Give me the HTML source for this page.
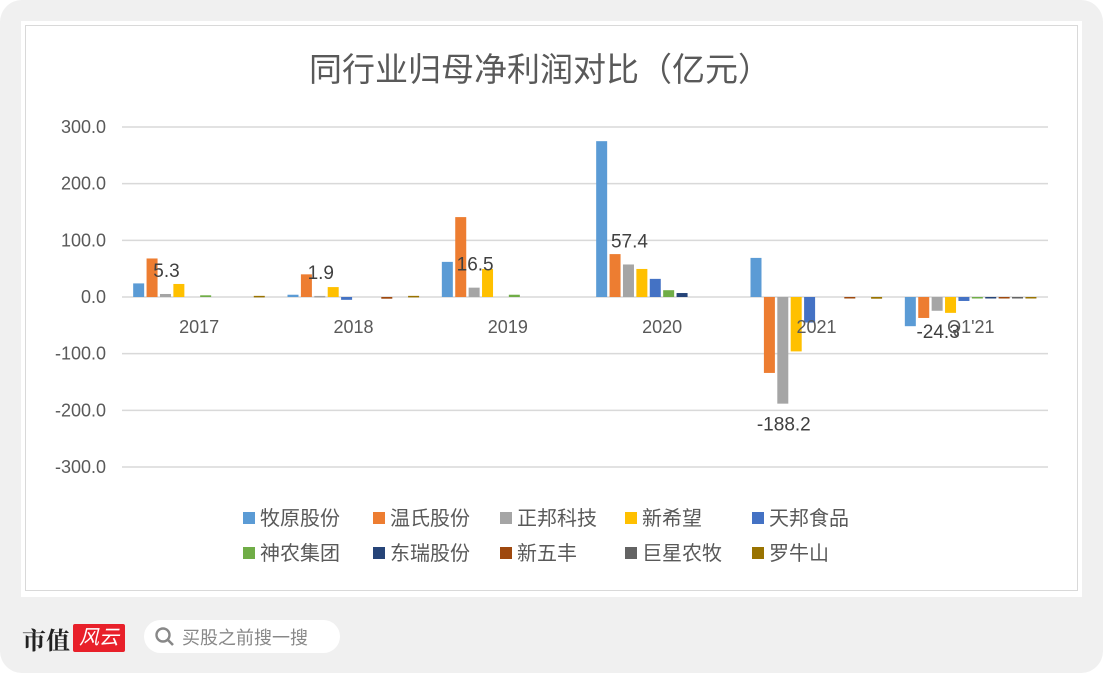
<!DOCTYPE html>
<html><head><meta charset="utf-8"><style>
body{margin:0;width:1103px;height:673px;background:#fff;font-family:"Liberation Sans","Noto Sans CJK SC",sans-serif;overflow:hidden}
#bg{position:absolute;left:0;top:0;width:1103px;height:673px;background:#f0f0f0;border-radius:22px}
#card{position:absolute;left:21px;top:21px;width:1061px;height:576px;background:#fff}
#frame{position:absolute;left:25px;top:25px;width:1053px;height:566px;border:1px solid #d9d9d9;box-sizing:border-box}
svg{position:absolute;left:0;top:0}
</style></head><body>
<div id="bg"></div>
<div id="card"></div>
<div id="frame"></div>
<svg id="chart" width="1103" height="673"></svg>
<div style="position:absolute;left:22px;top:622px;height:32px;display:flex;align-items:center">
  <span style="font-family:'Noto Serif CJK SC',serif;font-weight:bold;font-size:24px;color:#222">市值</span>
  <span style="margin-left:3px;background:#e8202a;color:#fff;font-size:20px;font-style:italic;padding:0 6px;height:28px;line-height:28px;border-radius:2px">风云</span>
</div>
<div style="position:absolute;left:144px;top:620px;width:196px;height:33px;background:#fff;border-radius:17px;display:flex;align-items:center">
  <svg width="22" height="22" style="position:relative;margin-left:10px"><circle cx="9" cy="9" r="6.5" fill="none" stroke="#888" stroke-width="2.4"/><line x1="14" y1="14" x2="19" y2="19" stroke="#888" stroke-width="2.6"/></svg>
  <span style="margin-left:6px;color:#888;font-size:18px">买股之前搜一搜</span>
</div>
<script>
const categories=["2017","2018","2019","2020","2021","Q1'21"];
const seriesNames=["牧原股份","温氏股份","正邦科技","新希望","天邦食品","神农集团","东瑞股份","新五丰","巨星农牧","罗牛山"];
const colors=["#5B9BD5","#ED7D31","#A5A5A5","#FFC000","#4472C4","#70AD47","#264478","#9E480E","#636363","#997300"];
const muyuan=[24,4,62,275,69,-51.5];
const wens=[68,40,141,75.7,-134,-37];
const zhengbang=[5.3,1.9,16.5,57.4,-188.2,-24.3];
const xinxiwang=[23,17.5,49.5,49.5,-96,-28];
const tianbang=[0,-5,0,32,-45,-7];
const shennong=[3,0,4,12,0,-2];
const dongrui=[0,0,0,7,0,-2];
const xinwufeng=[0,-3,0,0,-2,-2];
const juxing=[0,0,0,0,0,-2];
const luoniushan=[2,2,0,0,-3,-2];
const series=[muyuan,wens,zhengbang,xinxiwang,tianbang,shennong,dongrui,xinwufeng,juxing,luoniushan];
const yTicks=[300,200,100,0,-100,-200,-300];
const labelSeries=2;

const NS="http://www.w3.org/2000/svg";
const svg=document.getElementById('chart');
const X0=122,X1=1048,Y0=297,PX=170/300;
const y=v=>Y0-v*PX;
const catW=(X1-X0)/categories.length;
const pitch=13.4,bw=11;
const barX=(c,s)=>X0+c*catW+(catW-pitch*10)/2+s*pitch+1;
function mk(tag,attrs,txt){const e=document.createElementNS(NS,tag);for(const k in attrs)e.setAttribute(k,attrs[k]);if(txt!==undefined)e.textContent=txt;svg.appendChild(e);return e;}

const t=mk('text',{x:540,y:81,'text-anchor':'middle','font-size':33,fill:'#595959'},'同行业归母净利润对比（亿元）');



yTicks.forEach(v=>{
  const l=mk('line',{x1:X0,x2:X1,y1:y(v),y2:y(v),stroke:'#d9d9d9','stroke-width':1.5});
  
  
  const tx=mk('text',{x:106,y:y(v)+6,'text-anchor':'end','font-size':18,fill:'#595959'},v.toFixed(1));
  
  
});

series.forEach((arr,s)=>{
  arr.forEach((v,c)=>{
    if(v===0) return;
    const top=Math.min(y(v),Y0),h=Math.max(Math.abs(y(v)-Y0),1.5);
    const r=mk('rect',{x:barX(c,s),y:top,width:bw,height:h,fill:colors[s]});
    
    
  });
});

zhengbang.forEach((v,c)=>{
  const cx=barX(c,labelSeries)+bw/2+1;
  const ly=v>=0?y(v)-17:y(v)+27;
  const tx=mk('text',{x:cx,y:ly,'text-anchor':'middle','font-size':19,fill:'#404040'},v.toFixed(1));
  
  
});

categories.forEach((c,i)=>{
  const tx=mk('text',{x:X0+(i+0.5)*catW,y:333,'text-anchor':'middle','font-size':18,fill:'#595959'},c);
  
  
});

const legX=[243,373,500,625,752];
seriesNames.forEach((n,i)=>{
  const lx=legX[i%5],ly=i<5?518:553;
  const r=mk('rect',{x:lx,y:ly-6,width:12,height:12,fill:colors[i]});
  
  
  const tx=mk('text',{x:lx+17,y:ly+7,'font-size':20,fill:'#595959'},n);
  
  
});
</script>
</body></html>
